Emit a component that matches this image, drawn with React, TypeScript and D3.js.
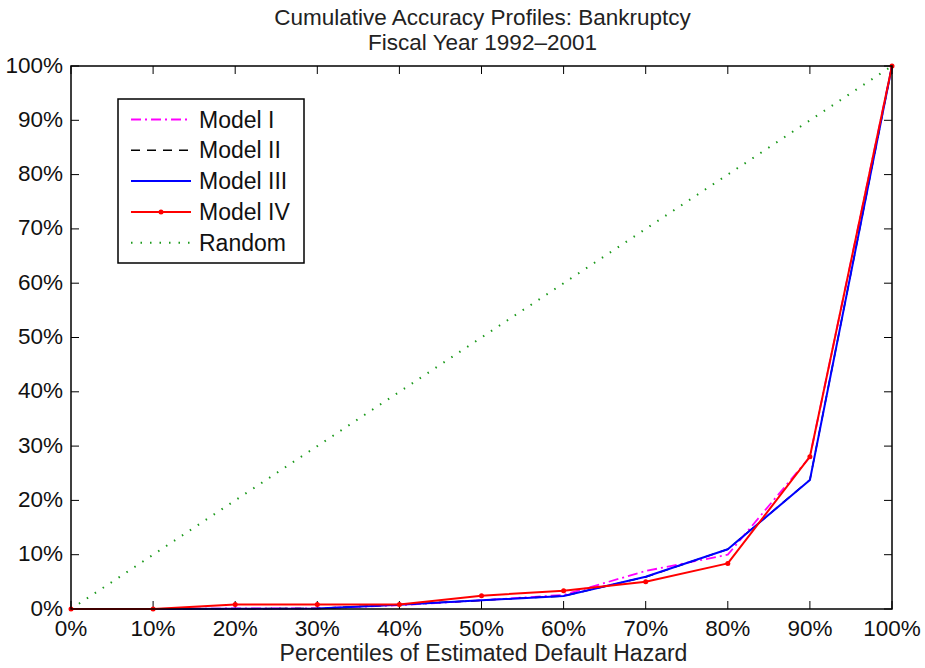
import * as d3 from 'd3'
import React from 'react'

// x: percentiles of estimated default hazard, y: cumulative % of defaults captured
const percentiles = [0, 10, 20, 30, 40, 50, 60, 70, 80, 90, 100]
const modelI = [0, 0, 0.1, 0.1, 0.7, 1.6, 2.6, 7.0, 10.0, 28.0, 100]
const modelII = [0, 0, 0.05, 0.1, 0.8, 1.6, 2.4, 5.9, 11.0, 23.8, 100]
const modelIII = [0, 0, 0.05, 0.1, 0.8, 1.6, 2.4, 5.95, 11.0, 23.75, 100]
const modelIV = [0, 0, 0.85, 0.85, 0.85, 2.45, 3.37, 5.03, 8.4, 28.05, 100]
const randomLine = [0, 10, 20, 30, 40, 50, 60, 70, 80, 90, 100]
const tickValues = [0, 10, 20, 30, 40, 50, 60, 70, 80, 90, 100]

const W = 925
const H = 668
const margin = { top: 66, right: 33, bottom: 59, left: 71 }
const font = 'Liberation Sans, Arial, Helvetica, sans-serif'

const series = [
  { label: 'Model I', values: modelI, color: '#ff00ff', dash: '10,4,2,4', width: 1.8, dots: false },
  { label: 'Model II', values: modelII, color: '#000000', dash: '9,7', width: 1.5, dots: false },
  { label: 'Model III', values: modelIII, color: '#0000ff', dash: null, width: 2, dots: false },
  { label: 'Model IV', values: modelIV, color: '#ff0000', dash: null, width: 2, dots: true },
  { label: 'Random', values: randomLine, color: '#1a991a', dash: '1.5,8', width: 2, dots: false },
]

const App = () => {
  const x = d3.scaleLinear().domain([0, 100]).range([margin.left, W - margin.right])
  const y = d3.scaleLinear().domain([0, 100]).range([H - margin.bottom, margin.top])
  const line = d3
    .line<number>()
    .x((_, i) => x(percentiles[i]))
    .y((d) => y(d))

  const pw = W - margin.right - margin.left
  const ph = H - margin.bottom - margin.top
  const tick = 8

  // draw Random first so the models sit on top, the legend keeps original order
  const drawOrder = [4, 0, 1, 2, 3]

  const lg = { x: 118, y: 99, w: 186, h: 164 }

  return (
    <svg width={W} height={H} style={{ position: 'absolute', left: 0, top: 0, background: '#fff' }} fontFamily={font}>
      <rect x={0} y={0} width={W} height={H} fill="#fff" />
      <text x={x(50) + 1} y={25} textAnchor="middle" fontSize={22.5} fill="#222">
        Cumulative Accuracy Profiles: Bankruptcy
      </text>
      <text x={x(50) + 1} y={50} textAnchor="middle" fontSize={22.5} fill="#222">
        Fiscal Year 1992–2001
      </text>

      {/* ticks, inside on all four sides */}
      {tickValues.map((t) => (
        <g key={'t' + t} stroke="#000" strokeWidth={1}>
          <line x1={x(t)} x2={x(t)} y1={margin.top + ph} y2={margin.top + ph - tick} />
          <line x1={x(t)} x2={x(t)} y1={margin.top} y2={margin.top + tick} />
          <line x1={margin.left} x2={margin.left + tick} y1={y(t)} y2={y(t)} />
          <line x1={margin.left + pw} x2={margin.left + pw - tick} y1={y(t)} y2={y(t)} />
        </g>
      ))}

      {drawOrder.map((si) => {
        const s = series[si]
        return (
          <g key={s.label}>
            <path
              d={line(s.values) ?? ''}
              fill="none"
              stroke={s.color}
              strokeWidth={s.width}
              strokeDasharray={s.dash ?? undefined}
              strokeLinejoin="round"
            />
            {s.dots &&
              s.values.map((v, i) => <circle key={i} cx={x(percentiles[i])} cy={y(v)} r={2.5} fill={s.color} />)}
          </g>
        )
      })}

      <rect x={margin.left} y={margin.top} width={pw} height={ph} fill="none" stroke="#000" strokeWidth={1.5} />

      {tickValues.map((t) => (
        <text key={'xl' + t} x={x(t)} y={636} textAnchor="middle" fontSize={22.5} fill="#111">
          {t}%
        </text>
      ))}
      {tickValues.map((t) => (
        <text key={'yl' + t} x={63} y={y(t) + 6.5} textAnchor="end" fontSize={22.5} fill="#111">
          {t}%
        </text>
      ))}
      <text x={x(50) + 2} y={661} textAnchor="middle" fontSize={23} fill="#222">
        Percentiles of Estimated Default Hazard
      </text>

      {/* legend */}
      <g>
        <rect x={lg.x} y={lg.y} width={lg.w} height={lg.h} fill="#fff" stroke="#000" strokeWidth={1.5} />
        {series.map((s, i) => {
          const ly = 119.5 + i * 30.8
          return (
            <g key={'lg' + s.label}>
              <line
                x1={131}
                x2={191}
                y1={ly}
                y2={ly}
                stroke={s.color}
                strokeWidth={s.width}
                strokeDasharray={s.dash ?? undefined}
              />
              {s.dots && <circle cx={161} cy={ly} r={2.5} fill={s.color} />}
              <text x={199} y={ly + 8} fontSize={23} fill="#111">
                {s.label}
              </text>
            </g>
          )
        })}
      </g>
    </svg>
  )
}

export default App
